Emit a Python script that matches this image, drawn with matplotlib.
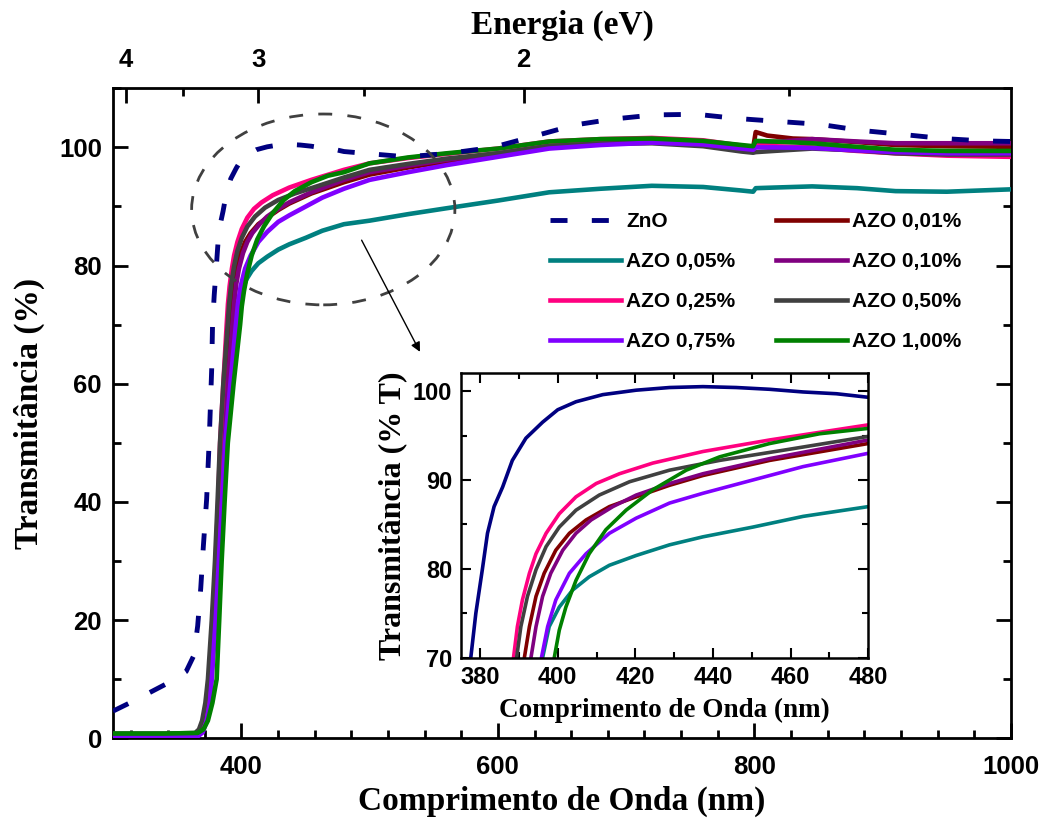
import matplotlib
matplotlib.use("Agg")
import matplotlib.pyplot as plt
from matplotlib.patches import Ellipse
from matplotlib.ticker import MultipleLocator, FixedLocator

# ---------------- data ----------------
wl_zno = [300, 315, 330, 345, 357, 363, 366, 368.4, 370.4, 373, 375, 376.9, 377.6, 378.9, 380.6,
          381.9, 383.6, 385.8, 388.3, 391.8, 396.1, 400, 404.7, 411.6, 420.2, 428.8, 437.4,
          446, 454.6, 463.2, 471.8, 480, 496, 529, 562, 596, 630, 660, 690, 722, 755, 786,
          818, 851, 882, 915, 947, 978, 1000]
t_zno = [4.6, 6.2, 7.9, 9.6, 11.3, 14.0, 19.0, 25.4, 32.4, 40.5, 50.4, 62.3, 70.0, 75.0, 80.0,
         84.0, 87.0, 89.2, 92.2, 94.7, 96.5, 97.9, 98.8, 99.6, 100.1, 100.4, 100.5,
         100.4, 100.2, 99.9, 99.7, 99.3, 99.0, 98.4, 99.0, 100.0, 102.0, 103.8, 104.8, 105.5,
         105.6, 104.9, 104.4, 103.9, 102.9, 102.2, 101.5, 101.1, 101.0]

wl_001 = [300, 340, 365, 369, 372, 374, 376, 378.5, 381, 383, 385, 388, 391.4, 392.7, 394.4,
          396.5, 399.5, 403, 407.3, 413.3, 420.2, 428.8, 437.4, 454.6, 480, 500, 530, 560,
          600, 640, 680, 720, 760, 790, 799, 801, 810, 830, 845, 880, 910, 950, 1000]
t_001 = [0.5, 0.5, 0.6, 1.2, 3.0, 6.0, 10.0, 20.0, 30.0, 40.0, 50.0, 60.0, 70.0, 73.5, 76.9,
         79.5, 82.1, 84.0, 85.5, 87.0, 88.1, 89.4, 90.5, 92.2, 94.1, 95.4, 96.6, 97.6,
         98.7, 100.1, 100.6, 100.9, 100.6, 100.0, 99.9, 102.6, 102.0, 101.5, 101.4, 100.9,
         100.4, 100.2, 100.1]

wl_005 = [300, 340, 365, 369, 372, 374.5, 376.5, 379.5, 382, 384.5, 387, 391, 396.1, 397.8,
          400.4, 403.8, 408.1, 413.3, 420.2, 428.8, 437.4, 450.3, 463.2, 480, 500, 530, 560,
          600, 640, 680, 720, 760, 790, 799, 801, 815, 845, 880, 910, 950, 1000]
t_005 = [0.5, 0.5, 0.6, 1.2, 3.0, 6.0, 10.0, 20.0, 30.0, 40.0, 50.0, 60.0, 70.0, 73.5,
         75.7, 77.6, 79.1, 80.4, 81.5, 82.7, 83.6, 84.7, 85.9, 87.0, 87.6, 88.7, 89.7,
         91.0, 92.4, 93.0, 93.5, 93.3, 92.7, 92.5, 93.1, 93.2, 93.4, 93.1, 92.6, 92.5, 92.9]

wl_010 = [300, 340, 365, 369, 372, 374.5, 376.5, 379, 381.5, 384, 386, 389.5, 393.1, 394.4,
          396.1, 398.2, 401.3, 404.7, 408.6, 414.2, 420.2, 428.8, 437.4, 454.6, 480, 500,
          530, 560, 600, 640, 680, 720, 760, 790, 799, 801, 815, 845, 880, 910, 950, 1000]
t_010 = [0.2, 0.2, 0.3, 1.0, 3.0, 6.0, 10.0, 20.0, 30.0, 40.0, 50.0, 60.0, 70.0, 73.5,
         76.9, 79.5, 82.1, 84.0, 85.5, 87.0, 88.3, 89.6, 90.7, 92.4, 94.5, 95.8,
         96.9, 97.9, 99.0, 100.3, 100.8, 101.0, 100.7, 100.1, 100.0, 100.6, 100.9, 101.4,
         101.0, 100.7, 100.7, 100.7]

wl_025 = [300, 340, 365, 368.5, 371, 373.5, 375.5, 378, 380, 382, 383.5, 386, 388.6, 389.6,
          390.9, 392.7, 394.4, 397, 400.4, 404.7, 409.9, 415.9, 424.5, 437.4, 454.6, 480,
          500, 530, 560, 600, 640, 680, 720, 760, 790, 799, 801, 815, 845, 880, 910, 950, 1000]
t_025 = [0.5, 0.5, 0.6, 1.2, 3.0, 6.0, 10.0, 20.0, 30.0, 40.0, 50.0, 60.0, 70.0, 73.5,
         76.5, 79.5, 81.7, 84.0, 86.2, 88.1, 89.6, 90.7, 91.9, 93.2, 94.5, 96.2,
         97.3, 98.2, 98.9, 99.8, 101.0, 101.4, 101.6, 101.2, 100.3, 100.0, 100.3, 100.2,
         100.0, 99.4, 99.0, 98.6, 98.4]

wl_050 = [300, 340, 364, 367, 369.5, 372, 374, 377, 379.5, 381.5, 383.4, 386, 389.4, 390.5,
          392.2, 394.4, 397, 400.4, 404.7, 410.7, 418.5, 428.8, 441.7, 458.9, 480, 500, 530,
          560, 600, 640, 680, 720, 760, 790, 799, 801, 815, 845, 880, 910, 950, 1000]
t_050 = [0.8, 0.8, 0.9, 1.5, 3.0, 6.0, 10.0, 20.0, 30.0, 40.0, 50.0, 60.0, 70.0, 73.5,
         76.9, 79.9, 82.5, 84.7, 86.6, 88.3, 89.8, 91.1, 92.2, 93.4, 94.9, 96.2, 97.2,
         98.1, 99.0, 100.2, 100.6, 100.7, 100.2, 99.3, 99.1, 99.2, 99.4, 99.8, 99.5,
         99.0, 98.8, 98.8]

wl_075 = [300, 340, 366, 370, 373, 375.5, 377, 380, 382.5, 385, 387.5, 391.5, 395.8, 397.4,
          399.5, 403, 407.3, 413.3, 420.2, 428.8, 437.4, 450.3, 463.2, 480, 500, 530, 560,
          600, 640, 680, 720, 760, 790, 799, 801, 815, 845, 880, 910, 950, 1000]
t_075 = [0.2, 0.2, 0.3, 1.0, 3.0, 6.0, 10.0, 20.0, 30.0, 40.0, 50.0, 60.0, 70.0, 73.5,
         76.5, 79.5, 81.7, 84.0, 85.7, 87.4, 88.5, 90.0, 91.5, 93.0, 94.5, 95.8, 97.0,
         98.4, 99.8, 100.4, 100.8, 100.5, 99.8, 99.6, 100.0, 100.0, 99.9, 99.5, 99.2,
         99.0, 99.0]

wl_100 = [300, 340, 366, 370.5, 374, 377.5, 380.8, 382.8, 384.7, 387, 389.5, 394, 399.1,
          400.4, 402.1, 404.7, 408.1, 412.4, 417.6, 424.5, 433.1, 441.7, 454.6, 467.5, 480,
          500, 530, 560, 600, 640, 680, 720, 760, 790, 799, 801, 815, 845, 880, 910, 950, 1000]
t_100 = [0.8, 0.8, 0.9, 1.5, 3.0, 6.0, 10.0, 20.0, 30.0, 40.0, 50.0, 60.0, 70.0,
         73.1, 75.7, 78.7, 81.7, 84.4, 86.6, 88.9, 91.1, 92.6, 94.1, 95.2, 95.8,
         97.3, 98.3, 99.0, 99.8, 101.0, 101.4, 101.5, 101.1, 100.4, 100.2, 101.1, 101.0,
         100.7, 100.1, 99.6, 99.4, 99.4]

labels = ["ZnO", "AZO 0,01%", "AZO 0,05%", "AZO 0,10%", "AZO 0,25%",
          "AZO 0,50%", "AZO 0,75%", "AZO 1,00%"]
colors = ["#000080", "#800000", "#008080", "#800080", "#FF0080",
          "#404040", "#8000FF", "#008000"]
series = [(wl_zno, t_zno), (wl_001, t_001), (wl_005, t_005), (wl_010, t_010),
          (wl_025, t_025), (wl_050, t_050), (wl_075, t_075), (wl_100, t_100)]

energy_major = [4, 3, 2]
energy_minor = [3.5, 2.5, 1.5]

# ---------------- figure ----------------
SANS = "Liberation Sans"
SERIF = "Liberation Serif"
plt.rcParams["font.family"] = SANS
plt.rcParams["font.weight"] = "bold"

W, H = 1045, 819
fig = plt.figure(figsize=(W / 100, H / 100), dpi=100)

def fr(x0, y0, x1, y1):
    return [x0 / W, 1 - y1 / H, (x1 - x0) / W, (y1 - y0) / H]

ax = fig.add_axes(fr(113, 88.3, 1011, 738.3))

lines = {}
order = [1, 2, 3, 4, 5, 6, 7, 0]
for i in order:
    wl, t = series[i]
    if i == 0:
        ln, = ax.plot(wl, t, color=colors[i], lw=3.5, ls=(0, (3.5, 5.0)),
                      label=labels[i], zorder=5)
    else:
        ln, = ax.plot(wl, t, color=colors[i], lw=3.3, label=labels[i],
                      solid_joinstyle="round", zorder=3 + i * 0.1)
    lines[i] = ln

ax.set_xlim(300, 1000)
ax.set_ylim(0, 110)
ax.xaxis.set_major_locator(MultipleLocator(200))
ax.xaxis.set_minor_locator(MultipleLocator(200 / 7))
ax.yaxis.set_major_locator(FixedLocator([0, 20, 40, 60, 80, 100]))
ax.yaxis.set_minor_locator(MultipleLocator(10))
ax.tick_params(which="both", direction="in", right=True, top=False, width=2,
               labelsize=18.5)
ax.tick_params(which="major", length=11)
ax.tick_params(which="minor", length=6)
for s in ax.spines.values():
    s.set_linewidth(2)
for lab in ax.get_xticklabels() + ax.get_yticklabels():
    lab.set_fontweight("bold")
ax.tick_params(axis="x", pad=12)
ax.tick_params(axis="y", pad=8)

ax.set_xlabel("Comprimento de Onda (nm)", fontfamily=SERIF, fontweight="bold",
              fontsize=24, labelpad=5)
ax.set_ylabel("Transmitância (%)", fontfamily=SERIF, fontweight="bold",
              fontsize=24, labelpad=10)

# top energy axis
sec = ax.secondary_xaxis("top", functions=(lambda x: 1240.0 / x, lambda e: 1240.0 / e))
sec.set_xticks(energy_major)
sec.set_xticklabels([str(e) for e in energy_major], fontweight="bold", fontsize=18.5)
sec.xaxis.set_minor_locator(FixedLocator(energy_minor))
sec.tick_params(which="both", direction="in", width=2, pad=12)
sec.tick_params(which="major", length=11)
sec.tick_params(which="minor", length=6)
sec.set_xlabel("Energia (eV)", fontfamily=SERIF, fontweight="bold", fontsize=24,
               labelpad=10)

# ellipse and arrow
ell = Ellipse((463.9, 89.5), 205.2, 32.3, fill=False, ls=(0, (5, 5.5)),
              ec="#404040", lw=2, zorder=6)
ax.add_patch(ell)
ax.annotate("", xy=(539.3, 65.4), xytext=(493.8, 84.3),
            arrowprops=dict(arrowstyle="-|>", color="black", lw=1,
                            mutation_scale=14, shrinkA=0, shrinkB=0), zorder=6)

# legend
leg_order = [0, 2, 4, 6, 1, 3, 5, 7]
leg = ax.legend([lines[i] for i in leg_order], [labels[i] for i in leg_order],
                ncol=2, frameon=False, loc="upper left",
                bbox_to_anchor=(540 / W, 1 - 202 / H), bbox_transform=fig.transFigure,
                prop={"family": SANS, "weight": "bold", "size": 15},
                handlelength=3.4, handletextpad=0.25, labelspacing=1.0,
                columnspacing=1.95, borderpad=0)

# inset
axi = fig.add_axes(fr(460.7, 373.3, 868.3, 657.7))
for i in [1, 2, 3, 4, 5, 6, 7, 0]:
    wl, t = series[i]
    axi.plot(wl, t, color=colors[i], lw=2.6, solid_joinstyle="round")
axi.set_xlim(375, 480)
axi.set_ylim(70, 102)
axi.xaxis.set_major_locator(MultipleLocator(20))
axi.xaxis.set_minor_locator(MultipleLocator(10))
axi.yaxis.set_major_locator(MultipleLocator(10))
axi.yaxis.set_minor_locator(MultipleLocator(5))
axi.tick_params(which="both", direction="in", top=True, right=True, width=1.5,
                labelsize=17, pad=6)
axi.tick_params(which="major", length=7)
axi.tick_params(which="minor", length=4)
for s in axi.spines.values():
    s.set_linewidth(1.8)
for lab in axi.get_xticklabels() + axi.get_yticklabels():
    lab.set_fontweight("bold")
axi.set_xlabel("Comprimento de Onda (nm)", fontfamily=SERIF, fontweight="bold",
               fontsize=19.5, labelpad=6)
axi.set_ylabel("Transmitância (% T)", fontfamily=SERIF, fontweight="bold",
               fontsize=23, labelpad=4)

fig.savefig("out.png", dpi=100)
